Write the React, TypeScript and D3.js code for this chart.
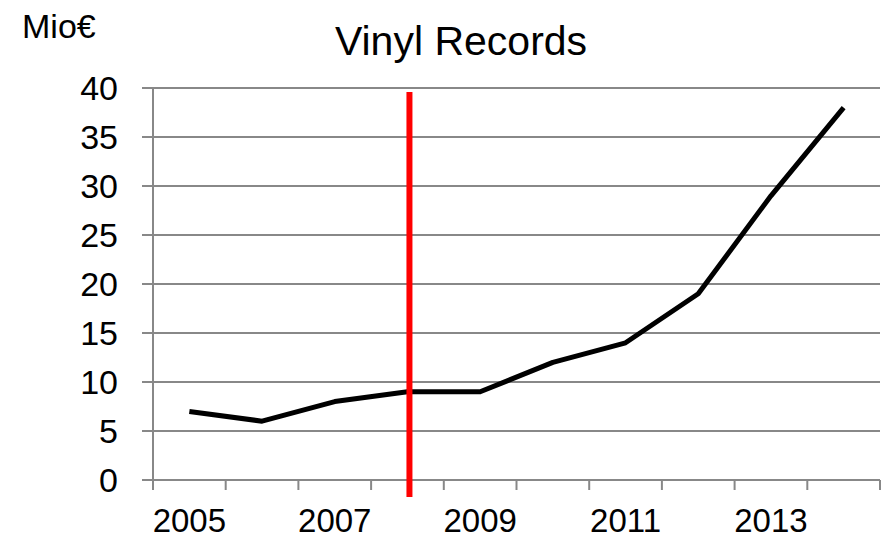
import * as d3 from "d3";

const years = ["2005", "2006", "2007", "2008", "2009", "2010", "2011", "2012", "2013", "2014"];
const sales = [7, 6, 8, 9, 9, 12, 14, 19, 29, 38];
const yTicks = [0, 5, 10, 15, 20, 25, 30, 35, 40];
const xLabels = ["2005", "2007", "2009", "2011", "2013"];
const markerYear = "2008";

const FONT = "Liberation Sans, Arial, sans-serif";
const GRID = "#888888";

export default function App() {
  const width = 881;
  const height = 539;
  const margin = { top: 88, right: 1, bottom: 59, left: 153 };
  const innerW = width - margin.left - margin.right;
  const innerH = height - margin.top - margin.bottom;

  const x = d3.scaleBand().domain(years).range([0, innerW]).padding(0);
  const y = d3.scaleLinear().domain([0, 40]).range([innerH, 0]);
  const cx = (d: string) => (x(d) ?? 0) + x.bandwidth() / 2;

  const line = d3
    .line<number>()
    .x((_, i) => cx(years[i]))
    .y((d) => y(d));

  const boundaries = years.map((d) => x(d) ?? 0).concat([innerW]);

  return (
    <svg
      width={width}
      height={height}
      style={{ position: "absolute", left: 0, top: 0, background: "#fff" }}
    >
      <text x={22} y={38} fontFamily={FONT} fontSize={34} fill="#000">
        Mio€
      </text>
      <text x={461} y={55} fontFamily={FONT} fontSize={41} textAnchor="middle" fill="#000">
        Vinyl Records
      </text>
      <g transform={`translate(${margin.left},${margin.top})`}>
        {yTicks.map((t) => (
          <g key={`y-${t}`}>
            <line x1={-11} x2={innerW} y1={y(t)} y2={y(t)} stroke={GRID} strokeWidth={2} />
            <text
              x={-35}
              y={y(t)}
              dy="0.35em"
              textAnchor="end"
              fontFamily={FONT}
              fontSize={34}
              fill="#000"
            >
              {t}
            </text>
          </g>
        ))}
        <line x1={0} x2={0} y1={0} y2={innerH} stroke={GRID} strokeWidth={2} />
        {boundaries.map((b, i) => (
          <line key={`xt-${i}`} x1={b} x2={b} y1={innerH} y2={innerH + 10} stroke={GRID} strokeWidth={2} />
        ))}
        {xLabels.map((l) => (
          <text
            key={`xl-${l}`}
            x={cx(l)}
            y={innerH + 52}
            textAnchor="middle"
            fontFamily={FONT}
            fontSize={33}
            fill="#000"
          >
            {l}
          </text>
        ))}
        <path
          d={line(sales) ?? ""}
          fill="none"
          stroke="#000"
          strokeWidth={5}
          strokeLinejoin="round"
        />
        <line
          x1={cx(markerYear) + 2}
          x2={cx(markerYear) + 2}
          y1={4}
          y2={innerH + 17}
          stroke="#ff0000"
          strokeWidth={6}
        />
      </g>
    </svg>
  );
}
